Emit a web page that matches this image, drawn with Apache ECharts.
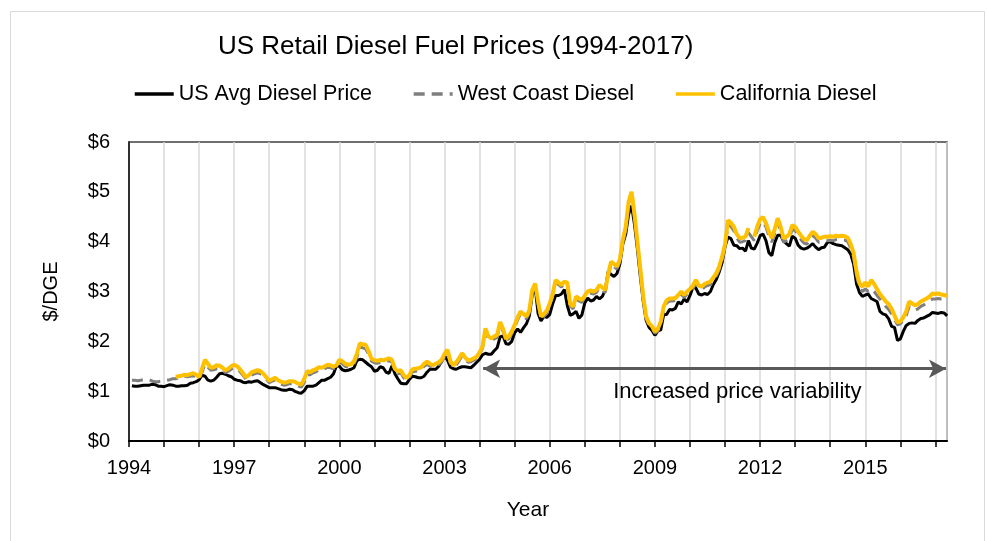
<!DOCTYPE html>
<html>
<head>
<meta charset="utf-8">
<style>
    html, body { margin: 0; padding: 0; background: #fff; }
    #chart { width: 987px; height: 541px; }
</style>
<script src="https://cdn.jsdelivr.net/npm/echarts@6/dist/echarts.min.js"></script>
</head>
<body>
<div id="chart"></div>
<script>
// monthly prices, $/DGE, one row per year (positions Y+1/12 ... Y+1)
const usAvg = [
    1.11, 1.10, 1.10, 1.11, 1.12, 1.12, 1.12, 1.14, 1.13, 1.10, 1.10, 1.09,
    1.11, 1.13, 1.12, 1.10, 1.10, 1.11, 1.11, 1.12, 1.16, 1.17, 1.19, 1.23,
    1.32, 1.30, 1.22, 1.20, 1.22, 1.28, 1.35, 1.36, 1.34, 1.31, 1.29, 1.24,
    1.22, 1.21, 1.18, 1.17, 1.19, 1.18, 1.20, 1.21, 1.17, 1.13, 1.10, 1.07,
    1.07, 1.07, 1.05, 1.03, 1.02, 1.02, 1.04, 1.03, 0.99, 0.97, 0.96, 1.01,
    1.10, 1.10, 1.10, 1.12, 1.17, 1.22, 1.22, 1.25, 1.28, 1.35, 1.51, 1.50,
    1.43, 1.41, 1.42, 1.44, 1.47, 1.61, 1.64, 1.63, 1.58, 1.53, 1.49, 1.40,
    1.42, 1.49, 1.47, 1.38, 1.36, 1.51, 1.35, 1.25, 1.16, 1.15, 1.15, 1.24,
    1.30, 1.29, 1.27, 1.27, 1.30, 1.38, 1.44, 1.44, 1.44, 1.50, 1.60, 1.71,
    1.62, 1.48, 1.45, 1.44, 1.47, 1.49, 1.49, 1.48, 1.47, 1.52, 1.58, 1.64,
    1.73, 1.76, 1.74, 1.74, 1.81, 1.87, 2.09, 2.11, 1.95, 1.94, 2.00, 2.17,
    2.25, 2.18, 2.27, 2.35, 2.51, 2.93, 3.09, 2.56, 2.41, 2.50, 2.48, 2.54,
    2.75, 2.92, 2.92, 2.95, 3.04, 2.72, 2.52, 2.55, 2.60, 2.46, 2.53, 2.77,
    2.87, 2.81, 2.83, 2.90, 2.85, 2.90, 3.03, 3.40, 3.34, 3.30, 3.36, 3.55,
    3.95, 4.15, 4.55, 4.72, 4.35, 3.85, 3.30, 2.80, 2.42, 2.28, 2.22, 2.12,
    2.21, 2.23, 2.54, 2.54, 2.64, 2.63, 2.66, 2.79, 2.75, 2.85, 2.79, 2.92,
    3.08, 3.07, 2.95, 2.93, 2.96, 2.94, 3.00, 3.14, 3.24, 3.39, 3.58, 3.90,
    4.09, 4.06, 3.93, 3.92, 3.86, 3.87, 3.81, 4.02, 3.87, 3.85, 3.97, 4.12,
    4.15, 4.02, 3.78, 3.72, 3.98, 4.13, 4.13, 4.01, 3.96, 3.91, 4.11, 4.07,
    3.93, 3.87, 3.85, 3.87, 3.91, 3.96, 3.89, 3.84, 3.88, 3.89, 3.98, 4.00,
    3.96, 3.94, 3.93, 3.92, 3.88, 3.84, 3.75, 3.55, 3.15, 2.98, 2.90, 2.93,
    2.95, 2.86, 2.83, 2.80, 2.60, 2.55, 2.53, 2.45, 2.30, 2.28, 2.02, 2.05,
    2.20, 2.32, 2.36, 2.37, 2.36, 2.42, 2.46, 2.47, 2.50, 2.53, 2.58, 2.57,
    2.56, 2.58, 2.57, 2.51
];
const westCoast = [
    1.22, 1.22, 1.21, 1.22, 1.23, 1.24, 1.23, 1.20, 1.19, 1.19, 1.20, 1.22,
    1.22, 1.23, 1.25, 1.25, 1.27, 1.28, 1.30, 1.29, 1.30, 1.31, 1.28, 1.25,
    1.38, 1.55, 1.48, 1.42, 1.43, 1.45, 1.45, 1.42, 1.37, 1.40, 1.44, 1.47,
    1.45, 1.39, 1.32, 1.24, 1.27, 1.32, 1.35, 1.37, 1.35, 1.30, 1.24, 1.17,
    1.20, 1.22, 1.17, 1.14, 1.12, 1.13, 1.15, 1.15, 1.13, 1.10, 1.08, 1.18,
    1.33, 1.33, 1.37, 1.39, 1.43, 1.42, 1.45, 1.48, 1.47, 1.45, 1.48, 1.58,
    1.55, 1.50, 1.48, 1.49, 1.55, 1.68, 1.88, 1.87, 1.85, 1.74, 1.60, 1.57,
    1.56, 1.58, 1.57, 1.59, 1.61, 1.58, 1.41, 1.35, 1.37, 1.27, 1.21, 1.28,
    1.39, 1.40, 1.41, 1.43, 1.50, 1.54, 1.50, 1.47, 1.50, 1.53, 1.58, 1.70,
    1.78, 1.56, 1.48, 1.53, 1.61, 1.71, 1.64, 1.58, 1.59, 1.62, 1.65, 1.74,
    1.86, 2.20, 2.05, 2.01, 2.05, 2.08, 2.33, 2.20, 2.01, 2.05, 2.15, 2.28,
    2.43, 2.55, 2.50, 2.45, 2.57, 2.98, 3.12, 2.76, 2.46, 2.50, 2.57, 2.71,
    2.90, 3.18, 3.14, 3.09, 3.16, 3.14, 2.71, 2.65, 2.85, 2.81, 2.78, 2.88,
    2.95, 2.97, 2.95, 2.98, 3.08, 3.03, 2.98, 3.30, 3.55, 3.50, 3.45, 3.60,
    3.98, 4.25, 4.75, 4.93, 4.50, 3.95, 3.40, 2.85, 2.45, 2.32, 2.26, 2.16,
    2.21, 2.35, 2.65, 2.77, 2.81, 2.81, 2.82, 2.88, 2.95, 2.88, 2.95, 3.00,
    3.06, 3.17, 3.06, 3.04, 3.09, 3.12, 3.14, 3.22, 3.31, 3.44, 3.64, 3.88,
    4.35, 4.30, 4.22, 4.07, 3.99, 4.00, 4.02, 4.18, 4.10, 4.02, 4.22, 4.36,
    4.41, 4.29, 4.12, 3.99, 4.17, 4.39, 4.22, 3.99, 4.02, 4.07, 4.25, 4.22,
    4.12, 4.04, 3.97, 3.95, 4.04, 4.12, 4.07, 3.99, 4.00, 4.02, 4.02, 4.03,
    4.02, 4.04, 4.03, 4.04, 4.03, 4.00, 3.87, 3.69, 3.32, 3.08, 3.00, 3.05,
    3.00, 3.05, 3.00, 2.92, 2.85, 2.78, 2.70, 2.64, 2.55, 2.44, 2.33, 2.35,
    2.42, 2.52, 2.70, 2.66, 2.62, 2.65, 2.70, 2.73, 2.77, 2.81, 2.85, 2.85,
    2.86, 2.85, 2.85, 2.84
];
const california = [
    null, null, null, null, null, null, null, null, null, null, null, null,
    null, null, null, 1.29, 1.30, 1.31, 1.33, 1.32, 1.34, 1.36, 1.33, 1.28,
    1.45, 1.63, 1.55, 1.47, 1.48, 1.52, 1.51, 1.47, 1.42, 1.45, 1.50, 1.53,
    1.50, 1.44, 1.36, 1.28, 1.32, 1.38, 1.40, 1.42, 1.40, 1.35, 1.28, 1.21,
    1.24, 1.27, 1.22, 1.19, 1.17, 1.18, 1.20, 1.20, 1.18, 1.15, 1.13, 1.25,
    1.40, 1.38, 1.42, 1.44, 1.48, 1.47, 1.50, 1.53, 1.52, 1.49, 1.52, 1.63,
    1.60, 1.55, 1.53, 1.54, 1.60, 1.75, 1.96, 1.94, 1.93, 1.80, 1.65, 1.62,
    1.61, 1.63, 1.62, 1.64, 1.66, 1.63, 1.45, 1.40, 1.42, 1.32, 1.26, 1.33,
    1.44, 1.45, 1.46, 1.48, 1.55, 1.59, 1.55, 1.52, 1.55, 1.58, 1.63, 1.75,
    1.83, 1.60, 1.52, 1.58, 1.66, 1.76, 1.68, 1.62, 1.63, 1.66, 1.69, 1.78,
    1.90, 2.26, 2.10, 2.06, 2.10, 2.13, 2.39, 2.25, 2.05, 2.10, 2.20, 2.33,
    2.48, 2.60, 2.55, 2.50, 2.62, 3.03, 3.16, 2.80, 2.50, 2.55, 2.62, 2.76,
    2.95, 3.23, 3.18, 3.13, 3.20, 3.18, 2.75, 2.70, 2.90, 2.86, 2.83, 2.92,
    3.00, 3.02, 3.00, 3.03, 3.13, 3.08, 3.03, 3.35, 3.60, 3.55, 3.50, 3.65,
    4.03, 4.30, 4.80, 5.00, 4.55, 4.00, 3.45, 2.90, 2.50, 2.36, 2.30, 2.20,
    2.25, 2.40, 2.70, 2.82, 2.86, 2.86, 2.87, 2.93, 3.00, 2.93, 3.00, 3.05,
    3.12, 3.23, 3.12, 3.10, 3.15, 3.18, 3.20, 3.28, 3.37, 3.50, 3.70, 3.95,
    4.43, 4.38, 4.30, 4.15, 4.07, 4.08, 4.10, 4.27, null, 4.10, 4.30, 4.45,
    4.49, 4.37, 4.20, 4.07, 4.25, 4.47, 4.30, 4.07, 4.10, 4.15, 4.33, 4.30,
    4.20, 4.12, 4.05, 4.03, 4.12, 4.20, 4.15, 4.07, 4.08, 4.10, 4.10, 4.11,
    4.10, 4.12, 4.11, 4.12, 4.11, 4.08, 3.95, 3.77, 3.40, 3.16, 3.10, 3.18,
    3.10, 3.23, 3.15, 3.05, 2.95, 2.88, 2.80, 2.75, 2.65, 2.52, 2.38, 2.40,
    2.48, 2.60, 2.80, 2.76, 2.72, 2.75, 2.80, 2.83, 2.86, 2.90, 2.96, 2.95,
    2.96, 2.94, 2.93, 2.91
];
const seriesNames = ['US Avg Diesel Price', 'West Coast Diesel', 'California Diesel'];
const yearLabels = [1994, 1997, 2000, 2003, 2006, 2009, 2012, 2015];
const startYear = 1994;
const endYear = 2017.33;
const arrowSpan = [2004.1, 2017.3];   // "increased price variability" years
const arrowLevel = 1.45;

const font = '"Liberation Sans", Arial, sans-serif';

// month position on the year axis
function toPoints(arr) {
    return arr.map(function (v, i) {
        return [startYear + (i + 1) / 12, v];
    });
}

let chart = echarts.init(document.getElementById('chart'));

const option = {
    animation: false,
    textStyle: { fontFamily: font },
    title: {
        text: 'US Retail Diesel Fuel Prices (1994-2017)',
        left: 213,
        top: 29,
        textStyle: { fontSize: 26, fontWeight: 'normal', color: '#000', fontFamily: font }
    },
    legend: {
        left: 133,
        top: 83,
        padding: 0,
        itemWidth: 39,
        itemHeight: 14,
        itemGap: 40,
        itemStyle: { opacity: 0 },
        lineStyle: { width: 3.5 },
        textStyle: { fontSize: 21.5, color: '#000', fontFamily: font, padding: [0, 0, 0, 0] },
        data: seriesNames
    },
    grid: {
        left: 129,
        right: 40,
        top: 142,
        bottom: 100,
        show: true,
        borderColor: '#404040',
        borderWidth: 1.5
    },
    graphic: [{
        type: 'rect',
        left: 8,
        top: 9,
        shape: { width: 974, height: 540 },
        style: { fill: 'none', stroke: '#d9d9d9', lineWidth: 1 },
        silent: true
    }],
    xAxis: {
        type: 'value',
        min: startYear,
        max: endYear,
        interval: 1,
        name: 'Year',
        nameLocation: 'middle',
        nameGap: 59,
        nameTextStyle: { fontSize: 21, color: '#000', padding: [0, 20, 0, 0] },
        axisLine: { lineStyle: { color: '#000', width: 2 } },
        axisTick: { show: true, length: 6, lineStyle: { color: '#000', width: 1.5 } },
        axisLabel: {
            fontSize: 20,
            color: '#000',
            margin: 17,
            showMaxLabel: false,
            formatter: function (v) {
                let y = Math.round(v);
                return Math.abs(v - y) < 0.01 && yearLabels.indexOf(y) >= 0 ? String(y) : '';
            }
        },
        splitLine: { show: true, lineStyle: { color: '#d9d9d9', width: 1.5 } }
    },
    yAxis: {
        type: 'value',
        min: 0,
        max: 6,
        interval: 1,
        name: '$/DGE',
        nameLocation: 'middle',
        nameGap: 68,
        nameTextStyle: { fontSize: 20, color: '#000' },
        axisLine: { show: true, lineStyle: { color: '#000', width: 1.5 } },
        axisTick: { show: false },
        axisLabel: {
            fontSize: 20,
            color: '#000',
            margin: 19,
            formatter: function (v) { return '$' + v; }
        },
        splitLine: { show: false }
    },
    series: [
        {
            name: seriesNames[0],
            type: 'line',
            symbol: 'none',
            data: toPoints(usAvg),
            lineStyle: { color: '#000', width: 3 },
            itemStyle: { color: '#000' },
            markLine: {
                silent: true,
                symbol: ['arrow', 'arrow'],
                symbolSize: [14, 17],
                label: { show: false },
                lineStyle: { color: '#595959', width: 3, type: 'solid' },
                data: [[
                    { coord: [arrowSpan[0], arrowLevel] },
                    { coord: [arrowSpan[1], arrowLevel] }
                ]]
            },
            markPoint: {
                silent: true,
                symbol: 'circle',
                symbolSize: 0,
                label: {
                    show: true,
                    position: 'inside',
                    formatter: 'Increased price variability',
                    fontSize: 22,
                    color: '#000',
                    fontFamily: font
                },
                data: [{ coord: [2011.35, 0.98] }]
            }
        },
        {
            name: seriesNames[1],
            type: 'line',
            symbol: 'none',
            data: toPoints(westCoast),
            lineStyle: { color: '#7f7f7f', width: 3, type: [11, 7] },
            itemStyle: { color: '#7f7f7f' }
        },
        {
            name: seriesNames[2],
            type: 'line',
            symbol: 'none',
            data: toPoints(california),
            lineStyle: { color: '#FFC000', width: 4 },
            itemStyle: { color: '#FFC000' }
        }
    ]
};
chart.setOption(option);
</script>
</body>
</html>
